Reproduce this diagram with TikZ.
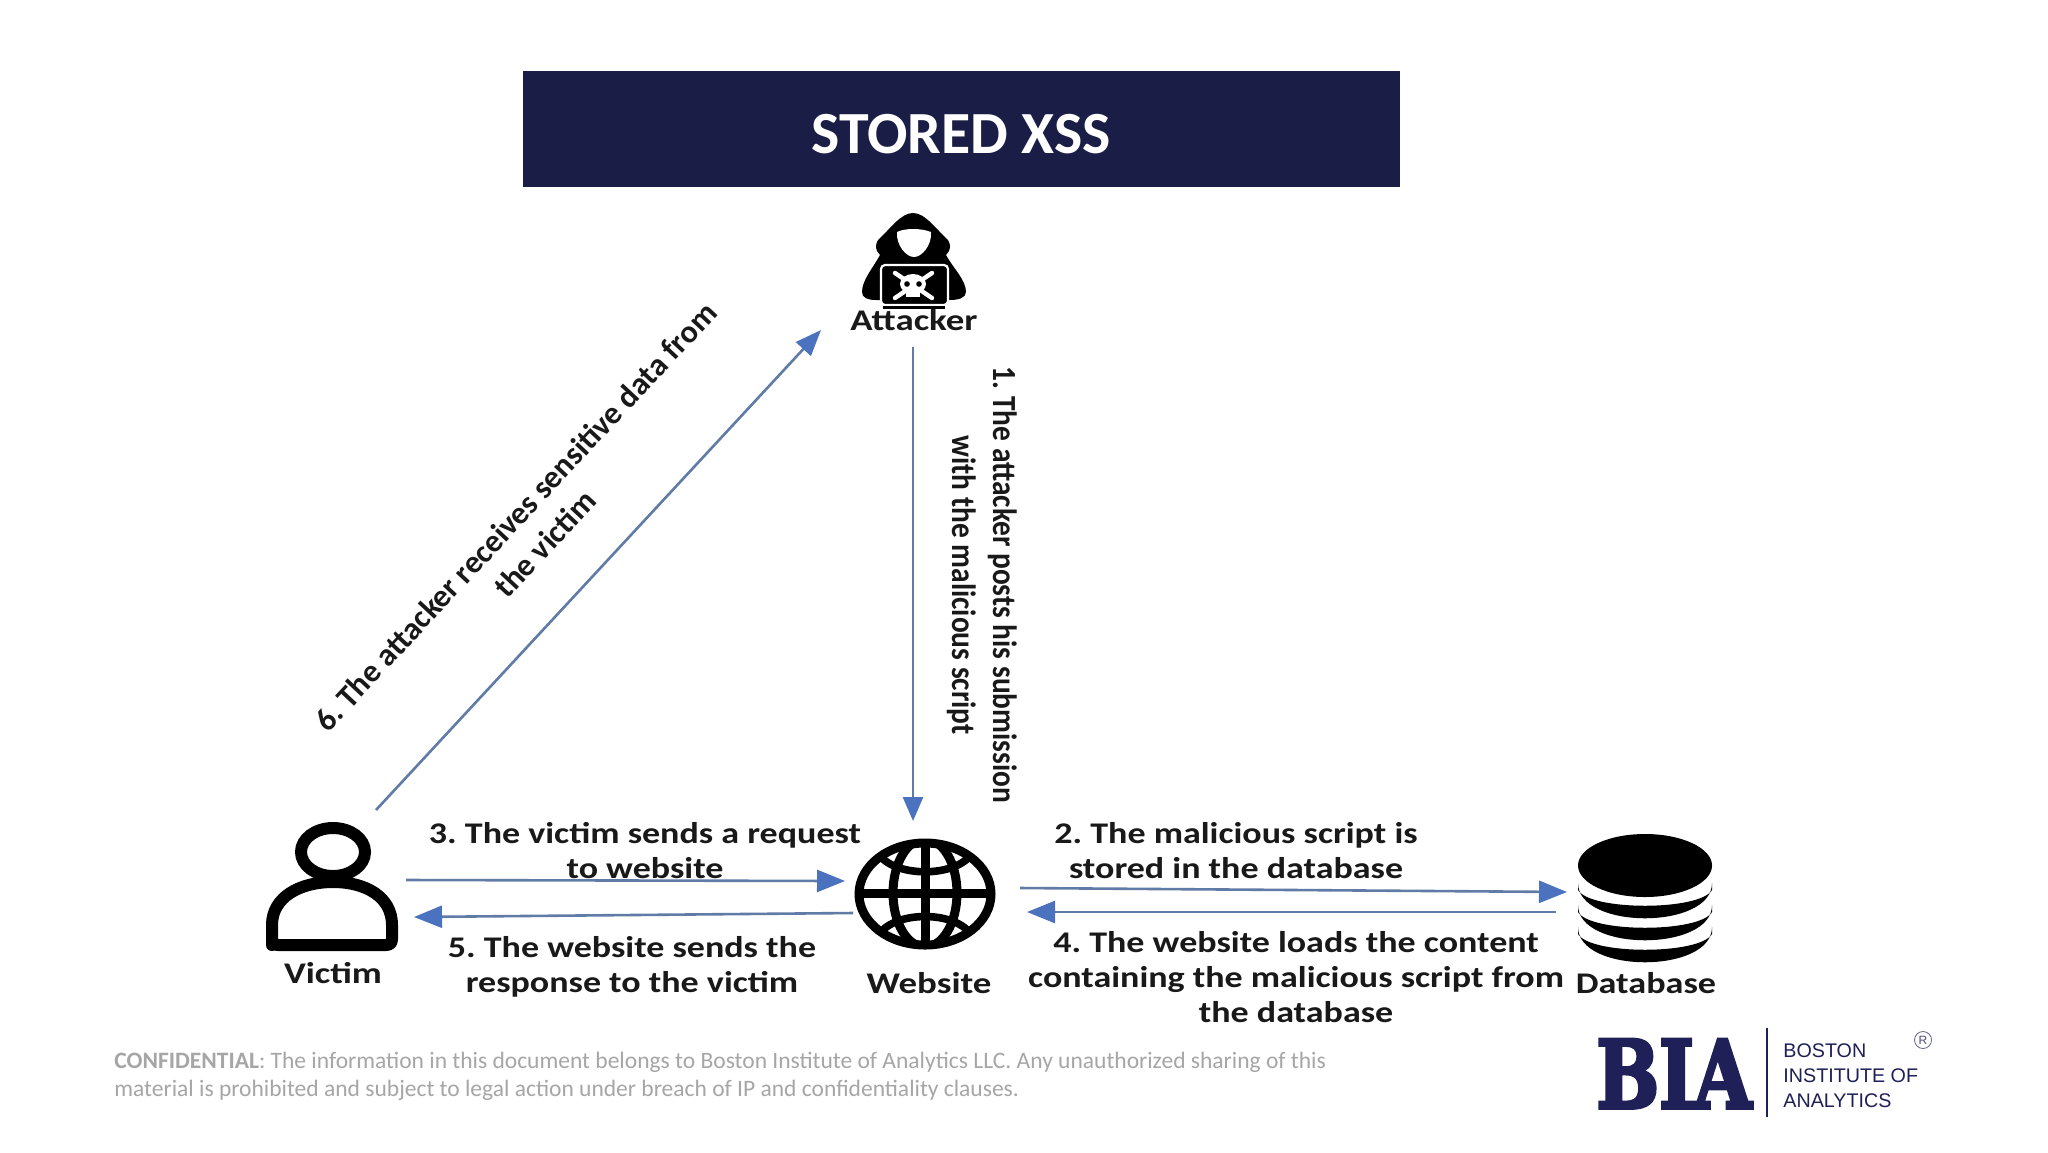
\documentclass[tikz,border=0pt]{standalone}
\usepackage{fontspec}
\usetikzlibrary{arrows.meta}
\setmainfont{Carlito}
\newfontfamily\logosans{Liberation Sans}
\newfontfamily\logoslab[BoldFeatures={FakeBold=4}]{DejaVu Serif}
\AtBeginDocument{\frenchspacing}
\definecolor{navy}{HTML}{1A1D45}
\definecolor{logonavy}{HTML}{1E2057}
\definecolor{flowline}{HTML}{5F7BA6}
\definecolor{flowhead}{HTML}{4A72BE}
\definecolor{footgray}{HTML}{A6A6A6}
\tikzset{
  lab/.style={font=\bfseries\fontsize{15}{17.5}\selectfont,align=center,text=black!90,inner sep=0pt,xscale=1.2,transform shape},
  vlab/.style={font=\bfseries\fontsize{14.7}{17.8}\selectfont,align=center,text=black!90,inner sep=0pt,rotate=-90,yscale=1.15,transform shape},
  dlab/.style={font=\bfseries\fontsize{16}{20}\selectfont,align=center,text=black!90,inner sep=0pt,rotate=47,transform shape},
  iconlabel/.style={font=\bfseries\fontsize{15}{17}\selectfont,text=black!90,inner sep=0pt,xscale=1.23,transform shape},
  flow/.style={draw=flowline,line width=1.3pt},
  headh/.style={-{Triangle[length=14pt,width=11pt,fill=flowhead,color=flowhead]}},
  headv/.style={-{Triangle[length=12pt,width=10pt,fill=flowhead,color=flowhead]}},
  headd/.style={-{Triangle[length=13pt,width=10pt,fill=flowhead,color=flowhead]}},
  foot/.style={font=\fontsize{11.76}{14}\selectfont,text=footgray,inner sep=0pt,anchor=west},
  logotxt/.style={font=\logosans\fontsize{9.85}{12}\selectfont,text=logonavy,inner sep=0pt,anchor=west},
}
\begin{document}
\begin{tikzpicture}[x=0.5pt,y=-0.5pt]
\path[use as bounding box,fill=white] (0,0) rectangle (2048,1152);
% title
\fill[navy] (523,70.5) rectangle (1400,187);
\node[font=\bfseries\fontsize{29.9}{32}\selectfont,text=white,inner sep=0pt] (title) at (961,134.5) {STORED XSS};
% attacker icon
\fill[black] (913,213) .. controls (925,213) and (935,228) .. (948,240) .. controls (951,245) and (951,250) .. (946,255) .. controls (953,268) and (966,280) .. (966,292) .. controls (966,298) and (958,300) .. (950,300) -- (876,300) .. controls (868,300) and (862,298) .. (862,292) .. controls (862,280) and (873,268) .. (880,255) .. controls (875,250) and (875,245) .. (878,240) .. controls (891,228) and (901,213) .. (913,213) -- cycle;
\fill[white] (897,232) .. controls (905,228) and (921,228) .. (931,232) .. controls (932,245) and (922,257) .. (914,257) .. controls (906,257) and (896,245) .. (897,232) -- cycle;
\fill[black,draw=white,line width=1.1pt,rounded corners=2pt] (881,265) rectangle (948,305);
\draw[white,line width=2.2pt,line cap=round] (895,273) -- (932,298) (932,273) -- (895,298);
\fill[white] (913,284) ellipse (13 and 10);
\fill[white] (906,288) rectangle (920,297);
\fill[black] (907,284) circle (2.8) (919,284) circle (2.8);
\draw[black,line width=1.2pt] (883,307.5) -- (945,307.5);
% victim icon
\draw[black,line width=6pt] (333,852) ellipse (32 and 24);
\draw[black,line width=6pt,line join=round] (272,945) -- (272,925) .. controls (272,897) and (300,882) .. (333,882) .. controls (366,882) and (392,897) .. (392,925) -- (392,939) .. controls (392,943) and (390,945) .. (386,945) -- (278,945) .. controls (274,945) and (272,943) .. (272,939) -- cycle;
% website icon
\begin{scope}
\clip (925,893) ellipse (66 and 52);
\draw[black,line width=4.5pt] (925,893) ellipse (32 and 54);
\draw[black,line width=4.5pt] (925,835) -- (925,950) (850,893) -- (1000,893);
\draw[black,line width=3.8pt] (878,853) .. controls (893,878) and (957,878) .. (972,853);
\draw[black,line width=3.8pt] (878,936) .. controls (893,910) and (957,910) .. (972,936);
\end{scope}
\draw[black,line width=4.5pt] (925,894) ellipse (66 and 51);
% database icon
\fill[black] (1645,865.5) ellipse (67 and 31.5);
\foreach \t in {0,22,44}{
\fill[black] (1578,883+\t) .. controls (1578,930+\t) and (1712,930+\t) .. (1712,883+\t) -- (1712,890+\t) .. controls (1700,911+\t) and (1590,911+\t) .. (1578,890+\t) -- cycle;
}
% labels
\node[iconlabel] (attacker) at (914,320) {Attacker};
\node[iconlabel] (victim) at (333,973) {Victim};
\node[iconlabel] (website) at (929,983) {Website};
\node[iconlabel,xscale=0.98] (database) at (1646,983) {Database};
\node[vlab] (l1) at (982,585) {1. The attacker posts his submission\\with the malicious script};
\node[lab] (l3) at (645,851) {3. The victim sends a request\\to website};
\node[lab] (l5) at (632,967) {5. The website sends the\\response to the victim};
\node[lab] (l2) at (1236,851) {2. The malicious script is\\stored in the database};
\node[lab] (l4) at (1296,977) {4. The website loads the content\\containing the malicious script from\\the database};
\node[dlab] (l6) at (530,530) {6. The attacker receives sensitive data from\\the victim};
% connectors
\coordinate (a1s) at (913,347); \coordinate (a1e) at (913,821);
\coordinate (a6s) at (376,810); \coordinate (a6e) at (821,330);
\coordinate (a3s) at (406,880); \coordinate (a3e) at (845,881);
\coordinate (a5s) at (853,913); \coordinate (a5e) at (414,917);
\coordinate (a2s) at (1020,888); \coordinate (a2e) at (1567,892);
\coordinate (a4s) at (1556,912); \coordinate (a4e) at (1027,912);
\draw[flow,headv] (a1s) -- (a1e);
\draw[flow,headd] (a6s) -- (a6e);
\draw[flow,headh] (a3s) -- (a3e);
\draw[flow,headh] (a5s) -- (a5e);
\draw[flow,headh] (a2s) -- (a2e);
\draw[flow,headh] (a4s) -- (a4e);
% footer
\node[foot] (f1) at (114,1062.3) {\textbf{CONFIDENTIAL}: The information in this document belongs to Boston Institute of Analytics LLC. Any unauthorized sharing of this};
\node[foot] (f2) at (114,1090.3) {material is prohibited and subject to legal action under breach of IP and confidentiality clauses.};
% logo
\node[font=\logoslab\bfseries\fontsize{47}{49}\selectfont,text=logonavy,inner sep=0pt,xscale=0.79,transform shape,anchor=base] (bia) at (1674,1108) {BIA};
\draw[logonavy,line width=0.9pt] (1767,1028) -- (1767,1117);
\node[logotxt] (b1) at (1783,1051) {BOSTON};
\node[logotxt] (b2) at (1783,1076) {INSTITUTE OF};
\node[logotxt] (b3) at (1783,1101) {ANALYTICS};
\node[draw=logonavy!70,circle,line width=0.4pt,minimum size=8.5pt,inner sep=0pt,font=\logosans\fontsize{6}{7}\selectfont,text=logonavy!80] (reg) at (1923,1040) {R};
\end{tikzpicture}
\end{document}
